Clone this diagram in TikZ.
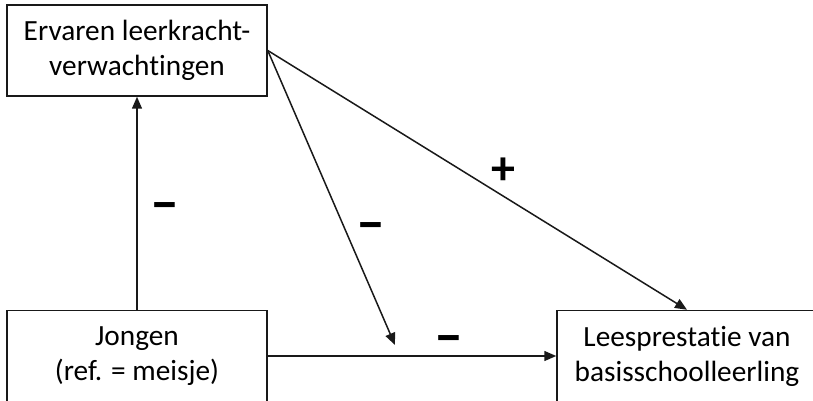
\documentclass[tikz,border=0pt]{standalone}
\usepackage{fontspec}
\setmainfont[Ligatures=NoCommon]{Carlito}
\usetikzlibrary{arrows.meta}
\tikzset{
  box/.style={draw=black!90, line width=1.5pt, minimum width=260pt, minimum height=91pt,
    inner sep=0pt, align=center, font=\fontsize{29.3}{35}\selectfont},
  conn/.style={draw=black!90, line width=1.5pt, -{Triangle[length=12pt,width=10pt]}},
  minus/.style={inner sep=0pt, anchor=base, font=\fontsize{58}{58}\selectfont\bfseries},
  plus/.style={inner sep=0pt, font=\fontsize{48}{48}\selectfont\bfseries}
}
\begin{document}
\begin{tikzpicture}[x=1pt,y=-1pt]
\clip (0,0) rectangle (813,401);
\fill[white] (0,0) rectangle (813,401);
\node[box] (t) at (137,50.5) {Ervaren leerkracht-\\verwachtingen};
\node[box] (j) at (137,356) {Jongen\\(ref. = meisje)};
\node[box] (l) at (687,356) {Leesprestatie van\\basisschoolleerling};
\coordinate (m) at (395,345);
\draw[conn] (j.north) -- (t.south);
\draw[conn] (j.east) -- (l.west);
\draw[conn] (t.east) -- (m);
\draw[conn] (t.east) -- (l.north);
\node[minus] (s1) at (165,221) {–};
\node[plus] (s2) at (503,171) {+};
\node[minus] (s3) at (371,241) {–};
\node[minus] (s4) at (449,354) {–};
\end{tikzpicture}
\end{document}
